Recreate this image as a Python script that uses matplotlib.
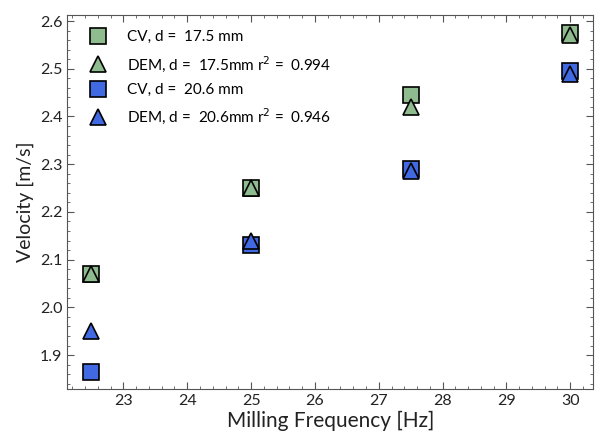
import matplotlib
matplotlib.use('Agg')
import matplotlib.pyplot as plt
from matplotlib.ticker import MultipleLocator, AutoMinorLocator

plt.rcParams['font.family'] = ['Lato', 'DejaVu Sans']

freq = [22.5, 25.0, 27.5, 30.0]
cv_175 = [2.07, 2.25, 2.445, 2.575]
dem_175 = [2.07, 2.25, 2.42, 2.57]
cv_206 = [1.865, 2.13, 2.29, 2.495]
dem_206 = [1.95, 2.14, 2.285, 2.49]

labels = [
    'CV, d =  17.5 mm',
    'DEM, d =  17.5mm r$^2$ =  0.994',
    'CV, d =  20.6 mm',
    'DEM, d =  20.6mm r$^2$ =  0.946',
]

green = '#8fbc8f'
blue = '#4169e1'

fig = plt.figure(figsize=(5.95, 4.37), dpi=100)
ax = fig.add_axes([0.113, 0.11, 0.884, 0.856])

style = dict(linestyle='none', markeredgecolor='black', markeredgewidth=1.2, markersize=12)
ax.plot(freq, cv_175, marker='s', color=green, label=labels[0], **style)
ax.plot(freq, dem_175, marker='^', color=green, label=labels[1], **style)
ax.plot(freq, cv_206, marker='s', color=blue, label=labels[2], **style)
ax.plot(freq, dem_206, marker='^', color=blue, label=labels[3], **style)

ax.set_xlim(22.12, 30.36)
ax.set_ylim(1.829, 2.613)
ax.xaxis.set_major_locator(MultipleLocator(1))
ax.yaxis.set_major_locator(MultipleLocator(0.1))
ax.xaxis.set_minor_locator(AutoMinorLocator(5))
ax.yaxis.set_minor_locator(AutoMinorLocator(5))
ax.tick_params(which='both', direction='in', top=True, right=True, color='#555555')
ax.tick_params(which='major', length=5, labelsize=11.5, labelcolor='#222222')
ax.tick_params(which='minor', length=2.5)
for sp in ax.spines.values():
    sp.set_color('#555555')

ax.set_xlabel('Milling Frequency [Hz]', fontsize=15, color='#222222', labelpad=2)
ax.set_ylabel('Velocity [m/s]', fontsize=14, color='#222222')

ax.legend(loc='upper left', frameon=False, fontsize=11, handletextpad=0.9,
          labelspacing=0.62, borderaxespad=0.6, borderpad=0.4)

fig.savefig('out.png', dpi=100)
